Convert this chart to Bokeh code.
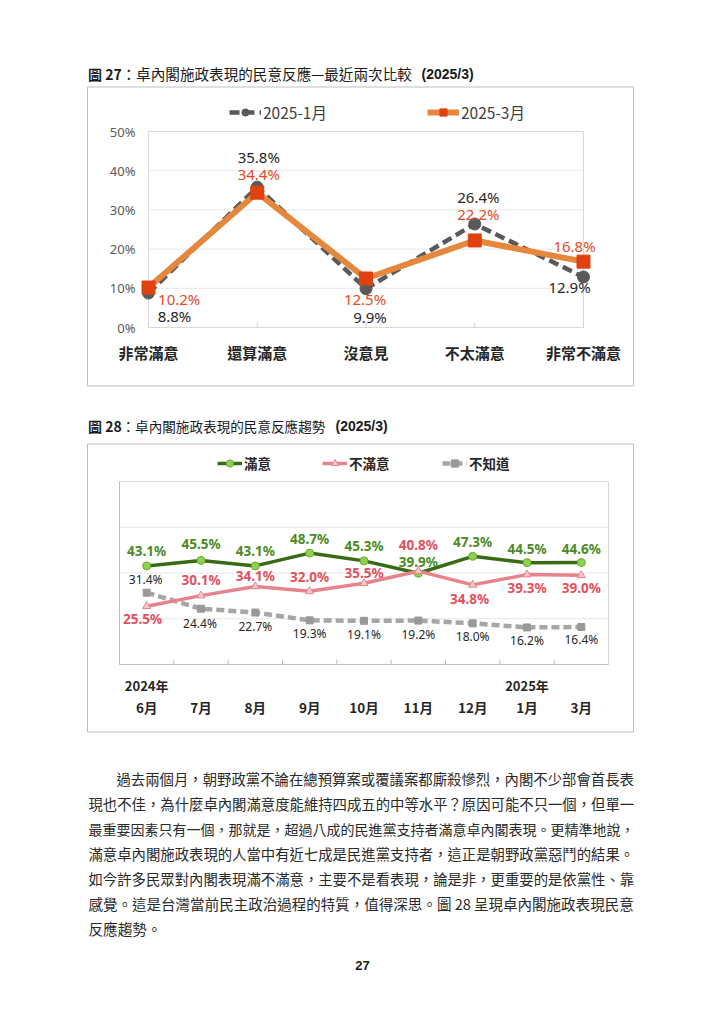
from bokeh.plotting import figure
from bokeh.models import (Range1d, Label, Legend, LegendItem, ColumnDataSource)
from bokeh.core.properties import value
from bokeh.embed import file_html
from bokeh.resources import INLINE

# ---------------- data ----------------
c1_categories = ["非常滿意", "還算滿意", "沒意見", "不太滿意", "非常不滿意"]
c1_series = ["2025-1月", "2025-3月"]
c1_jan = [8.8, 35.8, 9.9, 26.4, 12.9]
c1_mar = [10.2, 34.4, 12.5, 22.2, 16.8]
c1_yticks = [0, 10, 20, 30, 40, 50]

c2_months = ["6月", "7月", "8月", "9月", "10月", "11月", "12月", "1月", "3月"]
c2_years = ["2024年", "2025年"]
c2_year_at = [0, 7]
c2_series = ["滿意", "不滿意", "不知道"]
c2_sat = [43.1, 45.5, 43.1, 48.7, 45.3, 39.9, 47.3, 44.5, 44.6]
c2_dis = [25.5, 30.1, 34.1, 32.0, 35.5, 40.8, 34.8, 39.3, 39.0]
c2_unk = [31.4, 24.4, 22.7, 19.3, 19.1, 19.2, 18.0, 16.2, 16.4]
c2_yrange = [0, 80]
c2_grid = [20, 40, 60]

title1 = ["圖 27", "：卓內閣施政表現的民意反應—最近兩次比較", "(2025/3)"]
title2 = ["圖 28", "：卓內閣施政表現的民意反應趨勢", "(2025/3)"]
paragraph = [
    "過去兩個月，朝野政黨不論在總預算案或覆議案都廝殺慘烈，內閣不少部會首長表",
    "現也不佳，為什麼卓內閣滿意度能維持四成五的中等水平？原因可能不只一個，但單一",
    "最重要因素只有一個，那就是，超過八成的民進黨支持者滿意卓內閣表現。更精準地說，",
    "滿意卓內閣施政表現的人當中有近七成是民進黨支持者，這正是朝野政黨惡鬥的結果。",
    "如今許多民眾對內閣表現滿不滿意，主要不是看表現，論是非，更重要的是依黨性、靠",
    "感覺。這是台灣當前民主政治過程的特質，值得深思。圖 28 呈現卓內閣施政表現民意",
    "反應趨勢。",
]
page_no = "27"

# ---------------- page / style ----------------
CJK = "Noto Sans CJK TC"
NUM = "Noto Sans"
LAT = "Liberation Sans"
W, H = 720, 1016

p = figure(width=W, height=H, output_backend="svg", toolbar_location=None,
           x_range=Range1d(0, W), y_range=Range1d(H, 0), min_border=0)
p.axis.visible = False
p.grid.visible = False
p.outline_line_color = None

# ---- chart 1 scales: category 0 at page x 148, last at 583; 0% at y 327, 50% at y 131
n1 = len(c1_categories)
C1_XA, C1_XB, C1_YA, C1_YB = 148, 583, 327, 131
ppx1 = (C1_XB - C1_XA) / (n1 - 1)
ppy1 = (C1_YA - C1_YB) / (c1_yticks[-1] - c1_yticks[0])
p.extra_x_ranges["c1x"] = Range1d(-C1_XA / ppx1, (n1 - 1) + (W - C1_XB) / ppx1)
p.extra_y_ranges["c1y"] = Range1d(c1_yticks[0] - (H - C1_YA) / ppy1,
                                  c1_yticks[-1] + C1_YB / ppy1)
R1 = dict(x_range_name="c1x", y_range_name="c1y")

# ---- chart 2 scales: slot edges at page x 119 / 608; 0 at y 664, 80 at y 481
n2 = len(c2_months)
C2_XL, C2_XR, C2_YA, C2_YB = 119, 608, 664, 481
ppx2 = (C2_XR - C2_XL) / n2
ppy2 = (C2_YA - C2_YB) / (c2_yrange[1] - c2_yrange[0])
p.extra_x_ranges["c2x"] = Range1d(-0.5 - C2_XL / ppx2, (n2 - 0.5) + (W - C2_XR) / ppx2)
p.extra_y_ranges["c2y"] = Range1d(c2_yrange[0] - (H - C2_YA) / ppy2,
                                  c2_yrange[1] + C2_YB / ppy2)
R2 = dict(x_range_name="c2x", y_range_name="c2y")


def label(x, y, text, size, color="#1a1a1a", bold=False, align="left", font=CJK):
    p.add_layout(Label(x=x, y=y, text=text, text_font=font, text_font_size=f"{size:.2f}px",
                       text_font_style="bold" if bold else "normal",
                       text_color=color, text_align=align, text_baseline="middle"))


def make_legend(item_label, renderers, x, y_bottom, size, bold, glyph_w, color):
    lg = Legend(items=[LegendItem(label=item_label, renderers=renderers)],
                location=(x, H - y_bottom), orientation="horizontal")
    lg.padding = 0
    lg.margin = 0
    lg.spacing = 0
    lg.glyph_width = glyph_w
    lg.glyph_height = 18
    lg.label_height = 18
    lg.label_standoff = 2
    lg.label_text_font = CJK
    lg.label_text_font_size = f"{size}px"
    lg.label_text_font_style = "bold" if bold else "normal"
    lg.label_text_color = color
    lg.label_text_baseline = "middle"
    lg.border_line_color = None
    lg.background_fill_alpha = 0
    p.add_layout(lg)


def em_width(s):
    # approximate advance of a line in em: full-width glyphs 1, digits .55, space .25
    w = 0.0
    for ch in s:
        if ch == " ":
            w += 0.25
        elif ord(ch) < 128:
            w += 0.55
        else:
            w += 1.0
    return w


# ---------------- outer boxes (page coordinates) ----------------
p.quad(left=[87, 87], right=[633, 633], top=[86.5, 443.5], bottom=[385.5, 731.5],
       fill_color=None, line_color="#bfbfbf", line_width=1)

# ================= chart 1 =================
x1 = list(range(n1))
gy = c1_yticks[1:-1]
p.segment(x0=[x1[0]] * len(gy), x1=[x1[-1]] * len(gy), y0=gy, y1=gy,
          line_color="#e8e8e8", line_width=1, **R1)
p.quad(left=x1[0], right=x1[-1], bottom=c1_yticks[0], top=c1_yticks[-1],
       fill_color=None, line_color="#d9d9d9", line_width=1, **R1)
# inward tick marks on the category axis
p.segment(x0=x1, x1=x1, y0=[c1_yticks[0]] * n1, y1=[c1_yticks[0] + 5 / ppy1] * n1,
          line_color="#d0d0d0", line_width=1, **R1)
# y tick labels
p.text(x=[x1[0]] * len(c1_yticks), y=c1_yticks, text=[f"{t}%" for t in c1_yticks],
       x_offset=-13, text_font=value(NUM), text_font_size=value("13px"),
       text_color="#595959", text_align="right", text_baseline="middle", **R1)
# category labels
p.text(x=x1, y=[c1_yticks[0]] * n1, text=c1_categories, y_offset=25,
       text_font=value(CJK), text_font_size=value("15px"), text_font_style="bold",
       text_color="#262626", text_align="center", text_baseline="middle", **R1)

r_jan_l = p.line(x1, c1_jan, line_color="#595959", line_width=4.5, line_dash="10 5", **R1)
r_jan_m = p.scatter(x1, c1_jan, marker="circle", size=12, fill_color="#595959",
                    line_color="#595959", **R1)
r_mar_l = p.line(x1, c1_mar, line_color="#E5883E", line_width=6, **R1)
r_mar_m = p.scatter(x1, c1_mar, marker="square", size=13, fill_color="#E0420F",
                    line_color="#E0420F", **R1)

jan_dx = [26, 1.5, 4, 3.6, -14]
jan_dy = [23.2, -30, 28.5, -27, 10]
mar_dx = [30.7, 1.5, -1, 3.6, -9]
mar_dy = [11.7, -18.4, 20.7, -26.3, -15.4]
src_jan = ColumnDataSource(dict(x=x1, y=c1_jan, t=[f"{v:.1f}%" for v in c1_jan],
                                dx=jan_dx, dy=jan_dy))
src_mar = ColumnDataSource(dict(x=x1, y=c1_mar, t=[f"{v:.1f}%" for v in c1_mar],
                                dx=mar_dx, dy=mar_dy))
p.text(x="x", y="y", text="t", x_offset="dx", y_offset="dy", source=src_jan,
       text_font=value(NUM), text_font_size=value("15px"), text_color="#262626",
       text_align="center", text_baseline="middle", **R1)
p.text(x="x", y="y", text="t", x_offset="dx", y_offset="dy", source=src_mar,
       text_font=value(NUM), text_font_size=value("15px"), text_color="#E34B26",
       text_align="center", text_baseline="middle", **R1)

make_legend(c1_series[0], [r_jan_l, r_jan_m], 229, 122.5, 15.5, False, 32, "#404040")
make_legend(c1_series[1], [r_mar_l, r_mar_m], 427, 122.5, 15.5, False, 32, "#404040")

label(87.5, 73, title1[0], 14, bold=True)
label(121, 73, title1[1], 14.6)
label(421, 73, title1[2], 14, bold=True, font=LAT)

# ================= chart 2 =================
x2 = list(range(n2))
xl, xr = -0.5, n2 - 0.5
p.segment(x0=[xl] * len(c2_grid), x1=[xr] * len(c2_grid), y0=c2_grid, y1=c2_grid,
          line_color="#e6e6e6", line_width=1, **R2)
p.quad(left=xl, right=xr, bottom=c2_yrange[0], top=c2_yrange[1], fill_color=None,
       line_color="#d9d9d9", line_width=1, **R2)
p.segment(x0=[xl, xl], x1=[xl, xr], y0=[c2_yrange[0], c2_yrange[0]],
          y1=[c2_yrange[1], c2_yrange[0]], line_color="#bfbfbf", line_width=1, **R2)
bx = [i + 0.5 for i in x2[:-1]]
p.segment(x0=bx, x1=bx, y0=[c2_yrange[0]] * len(bx), y1=[c2_yrange[0] + 5 / ppy2] * len(bx),
          line_color="#bfbfbf", line_width=1, **R2)
p.text(x=c2_year_at, y=[c2_yrange[0]] * len(c2_year_at), text=c2_years, y_offset=21,
       text_font=value(CJK), text_font_size=value("13px"), text_font_style="bold",
       text_color="#262626", text_align="center", text_baseline="middle", **R2)
p.text(x=x2, y=[c2_yrange[0]] * n2, text=c2_months, y_offset=42.5,
       text_font=value(CJK), text_font_size=value("13.5px"), text_font_style="bold",
       text_color="#262626", text_align="center", text_baseline="middle", **R2)

r_unk_l = p.line(x2, c2_unk, line_color="#A6A6A6", line_width=4.5, line_dash="8 4", **R2)
r_unk_m = p.scatter(x2, c2_unk, marker="square", size=7, fill_color="#999999",
                    line_color="#999999", **R2)
r_sat_l = p.line(x2, c2_sat, line_color="#3A6A16", line_width=3.5, **R2)
r_sat_m = p.scatter(x2, c2_sat, marker="circle", size=8, fill_color="#8FD14F",
                    line_color="#6BAA35", line_width=1, **R2)
r_dis_l = p.line(x2, c2_dis, line_color="#E7838C", line_width=3.5, **R2)
r_dis_m = p.scatter(x2, c2_dis, marker="triangle", size=8, fill_color="#F6C9CD",
                    line_color="#E7838C", line_width=1, **R2)

sat_dx = [0, 0, 0, 0, 0, 0, 0, 0, 0]
sat_dy = [-14.7, -16.6, -14.7, -14.3, -14.4, -11.7, -14.1, -13.9, -13.7]
dis_dx = [-4, 0, 0, 0, 0, 0, -3, 0, 0]
dis_dy = [13.3, -16, -10, -14.8, -10.5, -25.7, 14.6, 13.2, 12.5]
unk_dx = [-1, -1, 0, 0, 0, 0, 0, 0, 0]
unk_dy = [-13, 14.5, 13.6, 13.4, 13.5, 13.9, 13.2, 13, 12.8]


def lab_src(vals, dx, dy):
    return ColumnDataSource(dict(x=x2, y=vals, t=[f"{v:.1f}%" for v in vals], dx=dx, dy=dy))


p.text(x="x", y="y", text="t", x_offset="dx", y_offset="dy",
       source=lab_src(c2_unk, unk_dx, unk_dy),
       text_font=value(NUM), text_font_size=value("12px"), text_color="#262626",
       text_align="center", text_baseline="middle", **R2)
p.text(x="x", y="y", text="t", x_offset="dx", y_offset="dy",
       source=lab_src(c2_sat, sat_dx, sat_dy),
       text_font=value(NUM), text_font_size=value("13.5px"), text_font_style="bold",
       text_color="#4C8A26", text_align="center", text_baseline="middle", **R2)
p.text(x="x", y="y", text="t", x_offset="dx", y_offset="dy",
       source=lab_src(c2_dis, dis_dx, dis_dy),
       text_font=value(NUM), text_font_size=value("13.5px"), text_font_style="bold",
       text_color="#E0515E", text_align="center", text_baseline="middle", **R2)

make_legend(c2_series[0], [r_sat_l, r_sat_m], 217, 473, 13.5, True, 25, "#262626")
make_legend(c2_series[1], [r_dis_l, r_dis_m], 322, 473, 13.5, True, 25, "#262626")
make_legend(c2_series[2], [r_unk_l, r_unk_m], 442, 473, 13.5, True, 25, "#262626")

label(87.5, 425, title2[0], 14, bold=True)
label(121, 425, title2[1], 13.6)
label(335, 425, title2[2], 14, bold=True, font=LAT)

# ================= paragraph (each line fitted to the text block width) =================
TXT_L, TXT_R, INDENT = 88, 634, 28
for i, line in enumerate(paragraph):
    x0 = TXT_L + (INDENT if i == 0 else 0)
    size = min(14.6, (TXT_R - x0) / em_width(line))
    label(x0, 778 + 25 * i, line, size, color="#2a2a2a")
label(362, 965, page_no, 13, bold=True, align="center", font=LAT)

open("out.html", "w").write(file_html(p, INLINE))
